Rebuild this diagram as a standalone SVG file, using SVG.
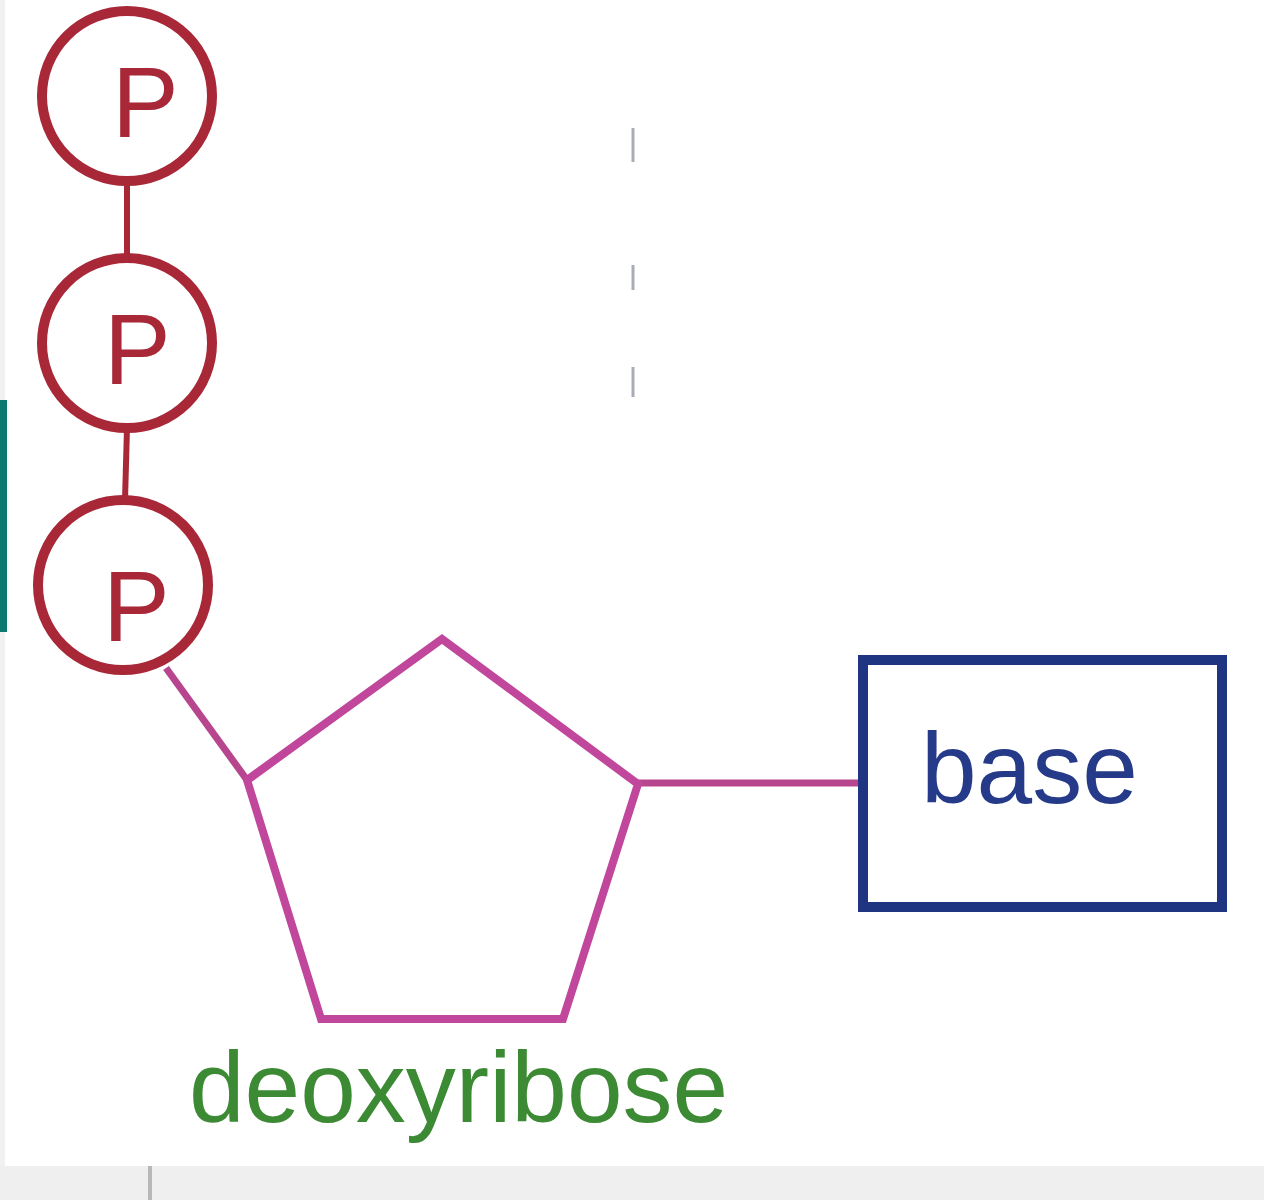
<svg xmlns="http://www.w3.org/2000/svg" width="1264" height="1200" viewBox="0 0 1264 1200">
  <style>
    .phos { fill: #ffffff; stroke: #a82838; stroke-width: 10; }
    .plabel { font-family: "Liberation Sans", Arial, sans-serif; font-size: 100px; fill: #a82838; }
    .plink { stroke: #a82838; stroke-width: 6; fill: none; }
    .sugar { fill: #ffffff; stroke: #c0479c; stroke-width: 8; stroke-linejoin: miter; }
    .slink { stroke: #b8468e; stroke-width: 7; fill: none; }
    .basebox { fill: #ffffff; stroke: #1f3582; stroke-width: 10; }
    .basetxt { font-family: "Liberation Sans", Arial, sans-serif; font-size: 100px; fill: #253a88; }
    .sugtxt { font-family: "Liberation Sans", Arial, sans-serif; font-size: 100px; fill: #3d8a34; }
  </style>
  <rect x="0" y="0" width="1264" height="1200" fill="#ffffff"/>
  <rect x="0" y="1166" width="1264" height="34" fill="#efefef"/>
  <rect x="148" y="1166" width="4" height="34" fill="#b8b8b8"/>
  <rect x="0" y="0" width="5" height="1166" fill="#f1f1f1"/>
  <rect x="0" y="400" width="7" height="232" fill="#0c7a70"/>
  <g id="guide">
    <line x1="633" y1="128" x2="633" y2="162" stroke="#a8acb8" stroke-width="3"/>
    <line x1="633" y1="265" x2="633" y2="290" stroke="#a8acb8" stroke-width="3"/>
    <line x1="633" y1="367" x2="633" y2="397" stroke="#a8acb8" stroke-width="3"/>
  </g>
  <g id="connectors">
    <line class="plink" x1="127" y1="182" x2="127" y2="258"/>
    <line class="plink" x1="127" y1="428" x2="125" y2="500"/>
    <line class="slink" x1="166" y1="668" x2="247" y2="780"/>
    <line class="slink" x1="638" y1="783" x2="860" y2="783"/>
  </g>
  <g id="p1">
    <circle class="phos" cx="127" cy="96" r="85"/>
    <text class="plabel" x="112" y="137">P</text>
  </g>
  <g id="p2">
    <circle class="phos" cx="127" cy="343" r="85"/>
    <text class="plabel" x="104" y="384">P</text>
  </g>
  <g id="p3">
    <circle class="phos" cx="123" cy="585" r="85"/>
    <text class="plabel" x="103" y="641">P</text>
  </g>
  <g id="deoxyribose">
    <polygon class="sugar" points="442,639 638,784 563,1019 321,1019 247,780"/>
    <line x1="250" y1="780" x2="440" y2="641" stroke="#c0479c" stroke-width="5"/>
    <text class="sugtxt" x="189" y="1122">deoxyribose</text>
  </g>
  <g id="base">
    <rect class="basebox" x="863" y="660" width="359" height="247"/>
    <text class="basetxt" x="921" y="803">base</text>
  </g>
</svg>
